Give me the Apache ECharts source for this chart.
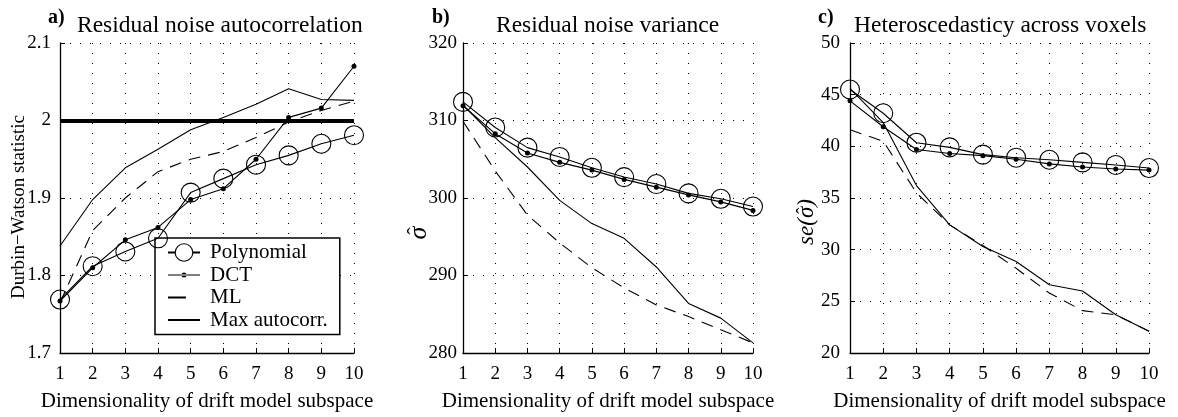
<!DOCTYPE html>
<html><head><meta charset="utf-8">
<script src="https://cdn.jsdelivr.net/npm/echarts@6/dist/echarts.min.js"></script>
<style>html,body{margin:0;padding:0;background:#fff}#c{width:1178px;height:417px}</style>
</head><body><div id="c"></div>
<script>
// ---- data ----
const dims = [1, 2, 3, 4, 5, 6, 7, 8, 9, 10];
const seriesNames = ['Polynomial', 'DCT', 'ML', 'Max autocorr.'];
// panel a: Durbin-Watson statistic
const dwPoly = [1.769, 1.812, 1.831, 1.848, 1.907, 1.925, 1.943, 1.955, 1.970, 1.981];
const dwDCT  = [1.767, 1.810, 1.846, 1.862, 1.898, 1.912, 1.950, 2.004, 2.016, 2.070];
const dwML   = [1.765, 1.858, 1.900, 1.934, 1.950, 1.960, 1.978, 1.998, 2.013, 2.025];
const dwMax  = [1.838, 1.898, 1.939, 1.963, 1.988, 2.004, 2.021, 2.041, 2.027, 2.026];
const dwRef = 2;
// panel b: residual noise variance
const varPoly = [312.4, 309.1, 306.5, 305.3, 303.9, 302.7, 301.8, 300.6, 299.9, 298.9];
const varDCT  = [311.9, 308.3, 305.8, 304.6, 303.6, 302.4, 301.4, 300.4, 299.5, 298.4];
const varML   = [309.9, 303.5, 297.8, 294.2, 291.0, 288.4, 286.2, 284.7, 283.0, 281.3];
const varMax  = [312.0, 307.8, 304.0, 299.7, 296.7, 294.8, 291.1, 286.4, 284.5, 281.3];
// panel c: heteroscedasticity
const hetPoly = [45.5, 43.2, 40.35, 39.9, 39.2, 38.9, 38.7, 38.45, 38.2, 37.9];
const hetDCT  = [44.4, 41.9, 39.7, 39.3, 39.1, 38.75, 38.3, 38.0, 37.8, 37.7];
const hetML   = [41.6, 40.5, 35.5, 32.4, 30.4, 28.2, 25.8, 24.1, 23.7, 22.1];
const hetMax  = [45.6, 42.3, 36.2, 32.4, 30.3, 28.85, 26.6, 26.0, 23.7, 22.1];
// axis ranges
const yRanges = [
  {min: 1.7, max: 2.1, interval: 0.1},
  {min: 280, max: 320, interval: 10},
  {min: 20, max: 50, interval: 5}
];
const panelLetters = ['a)', 'b)', 'c)'];
const panelTitles = ['Residual noise autocorrelation', 'Residual noise variance', 'Heteroscedasticy across voxels'];
const xName = 'Dimensionality of drift model subspace';
const yName = 'Durbin\u2212Watson statistic';
const sigma = '\u03C3', hat = '\u02C6';

// ---- chart ----
const FONT = "'Liberation Serif','Times New Roman',serif";
const panels = [[dwPoly, dwDCT, dwML, dwMax], [varPoly, varDCT, varML, varMax], [hetPoly, hetDCT, hetML, hetMax]];
const gridPos = [
  {left: 60, top: 43, width: 294, height: 310},
  {left: 463, top: 43, width: 290, height: 310},
  {left: 850, top: 43, width: 299, height: 310}
];
const yLabelMargin = [9, 6, 10];
const letterPos = [48, 432, 818];
const titlePos = [77, 496, 854];

const pairs = arr => dims.map((d, i) => [d, arr[i]]);
const splitLine = {show: true, lineStyle: {color: '#000', width: 1, type: [1, 9]}};
const axisLine = {show: true, onZero: false, lineStyle: {color: '#000', width: 1.3}};
const axisTick = {show: true, inside: true, length: 5, lineStyle: {color: '#000', width: 1}};

// measure helper for placing the hat over sigma
const mctx = document.createElement('canvas').getContext('2d');
function tw(font, s) { mctx.font = font; return mctx.measureText(s).width; }

const xAxis = [], yAxis = [], series = [], title = [], graphic = [];
for (let g = 0; g < 3; g++) {
  xAxis.push({
    gridIndex: g, type: 'value', min: 1, max: 10, interval: 1,
    axisLine, axisTick, splitLine,
    axisLabel: {fontSize: 19, fontFamily: FONT, color: '#000', margin: 12},
    name: xName, nameLocation: 'middle', nameGap: 38,
    nameTextStyle: {fontSize: 21, fontFamily: FONT, color: '#000'}
  });
  yAxis.push({
    gridIndex: g, type: 'value', min: yRanges[g].min, max: yRanges[g].max, interval: yRanges[g].interval,
    axisLine, axisTick, splitLine,
    axisLabel: {fontSize: 19, fontFamily: FONT, color: '#000', margin: yLabelMargin[g]}
  });
  const d = panels[g];
  series.push({
    name: seriesNames[0], type: 'line', xAxisIndex: g, yAxisIndex: g, data: pairs(d[0]),
    symbol: 'circle', symbolSize: 19, z: 5,
    lineStyle: {color: '#000', width: 1.1},
    itemStyle: {color: 'transparent', borderColor: '#000', borderWidth: 1.1},
    markLine: g === 0 ? {
      silent: true, symbol: 'none', label: {show: false},
      lineStyle: {color: '#000', width: 4, type: 'solid'},
      data: [{yAxis: dwRef}]
    } : undefined
  });
  series.push({
    name: seriesNames[1], type: 'line', xAxisIndex: g, yAxisIndex: g, data: pairs(d[1]),
    symbol: 'circle', symbolSize: 5, z: 4,
    lineStyle: {color: '#000', width: 1.1},
    itemStyle: {color: '#000'}
  });
  series.push({
    name: seriesNames[2], type: 'line', xAxisIndex: g, yAxisIndex: g, data: pairs(d[2]),
    symbol: 'none', z: 3,
    lineStyle: {color: '#000', width: 1.1, type: [12, 8]},
    itemStyle: {color: '#000'}
  });
  series.push({
    name: seriesNames[3], type: 'line', xAxisIndex: g, yAxisIndex: g, data: pairs(d[3]),
    symbol: 'none', z: 3,
    lineStyle: {color: '#000', width: 1.1},
    itemStyle: {color: '#000'}
  });
  title.push({
    text: panelLetters[g], left: letterPos[g], top: 8, padding: 0,
    textStyle: {fontSize: 20, fontWeight: 'bold', fontFamily: FONT, color: '#000'}
  });
  title.push({
    text: panelTitles[g], left: titlePos[g], top: 14, padding: 0,
    textStyle: {fontSize: 23.5, fontWeight: 'normal', fontFamily: FONT, color: '#000'}
  });
}

// y-axis names (rotated)
graphic.push({
  type: 'text', x: 19, y: 207, rotation: Math.PI / 2,
  style: {text: yName, font: '19px ' + FONT, fill: '#000', align: 'center', verticalAlign: 'middle'}
});
const fB = 'italic 26px ' + FONT;
graphic.push({
  type: 'group', x: 419, y: 233, rotation: Math.PI / 2,
  children: [
    {type: 'text', x: 0, y: 0, style: {text: sigma, font: fB, fill: '#000', align: 'center', verticalAlign: 'middle'}},
    {type: 'text', x: 2, y: -3, style: {text: hat, font: '22px ' + FONT, fill: '#000', align: 'center', verticalAlign: 'middle'}}
  ]
});
const fC = 'italic 23px ' + FONT;
const cTxt = 'se(' + sigma + ')';
const wAll = tw(fC, cTxt), wPre = tw(fC, 'se('), wSig = tw(fC, sigma);
graphic.push({
  type: 'group', x: 807, y: 222, rotation: Math.PI / 2,
  children: [
    {type: 'text', x: 0, y: 0, style: {text: cTxt, font: fC, fill: '#000', align: 'center', verticalAlign: 'middle'}},
    {type: 'text', x: -wAll / 2 + wPre + wSig / 2 + 1.5, y: -3, style: {text: hat, font: '19px ' + FONT, fill: '#000', align: 'center', verticalAlign: 'middle'}}
  ]
});

const hidden = {color: 'transparent', borderWidth: 0, opacity: 0};
const option = {
  animation: false,
  backgroundColor: '#fff',
  grid: gridPos,
  xAxis, yAxis, series, title, graphic,
  legend: {
    orient: 'vertical', left: 155, top: 238,
    itemWidth: 32, itemHeight: 22, itemGap: 1.5,
    padding: [4, 12, 4, 12],
    backgroundColor: '#fff', borderColor: '#000', borderWidth: 1.5, borderRadius: 0,
    selectedMode: false,
    textStyle: {fontSize: 21, fontFamily: FONT, color: '#000', padding: [0, 0, 0, 5]},
    data: [
      {name: seriesNames[0], itemStyle: {color: '#fff', borderColor: '#000', borderWidth: 1.1}},
      {name: seriesNames[1], icon: 'path://M0,10.45L32,10.45L32,11.55L0,11.55Z M13.5,11A2.5,2.5 0 1 0 18.5,11A2.5,2.5 0 1 0 13.5,11Z'},
      {name: seriesNames[2], itemStyle: hidden, lineStyle: {type: [18, 14]}},
      {name: seriesNames[3], itemStyle: hidden}
    ]
  }
};
const chart = echarts.init(document.getElementById('c'), null, {renderer: 'canvas'});
chart.setOption(option);
</script></body></html>
